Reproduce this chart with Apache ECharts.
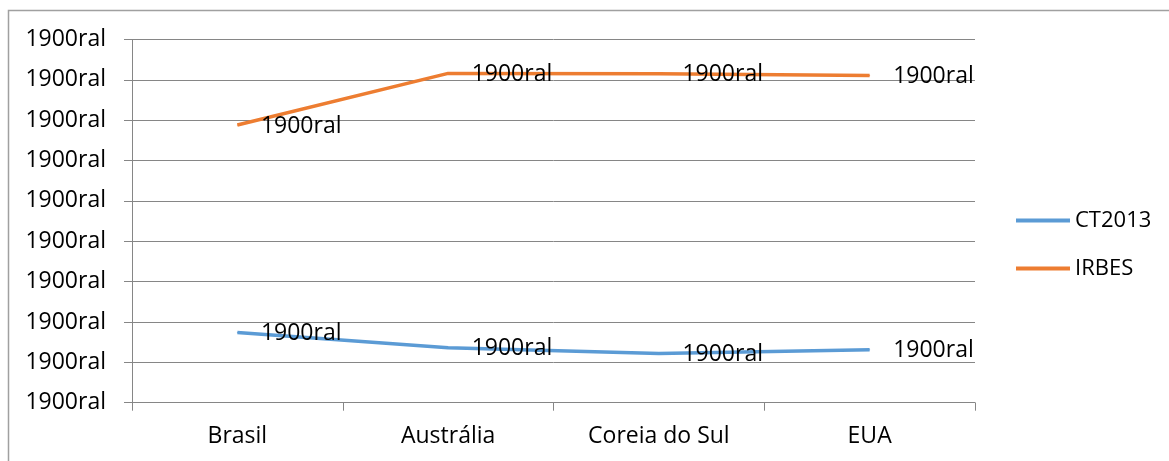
<!DOCTYPE html>
<html>
<head>
<meta charset="utf-8">
<script src="https://cdn.jsdelivr.net/npm/echarts@6/dist/echarts.min.js"></script>
<style>
  html, body { margin: 0; padding: 0; background: #fff; }
  #chart { width: 1169px; height: 461px; }
</style>
</head>
<body>
<div id="chart"></div>
<script>
// Countries along the x axis
const categories = ['Brasil', 'Austrália', 'Coreia do Sul', 'EUA'];
// Series values
const ct2013 = [1.74, 1.36, 1.22, 1.31];
const irbes = [6.88, 8.16, 8.15, 8.11];
// Text shown for every value-axis tick and data label
const tickText = '1900ral';
const labelText = '1900ral';

const FONT = '"Open Sans", sans-serif';
const FS = 23;
const chart = echarts.init(document.getElementById('chart'));

function lineSeries(name, data, color) {
  return {
    name: name,
    type: 'line',
    data: data,
    symbol: 'circle',
    symbolSize: 1,
    showSymbol: true,
    lineStyle: { color: color, width: 3.5 },
    itemStyle: { color: color },
    label: {
      show: true,
      position: 'right',
      distance: 23,
      offset: [0, 1],
      formatter: () => labelText,
      color: '#000',
      fontFamily: FONT,
      fontSize: FS
    }
  };
}

chart.setOption({
  animation: false,
  backgroundColor: '#fff',
  graphic: [{
    type: 'rect',
    shape: { x: 8.5, y: 10.5, width: 1300, height: 600 },
    style: { fill: 'none', stroke: '#a0a0a0', lineWidth: 1.5 },
    silent: true
  }],
  grid: { left: 132, right: 194, top: 39.5, bottom: 58.3 },
  legend: {
    orient: 'vertical',
    left: 1011,
    top: 204.5,
    icon: 'rect',
    itemWidth: 54,
    itemHeight: 4,
    itemGap: 26,
    textStyle: { color: '#000', fontFamily: FONT, fontSize: 22, lineHeight: 22 },
    data: ['CT2013', 'IRBES']
  },
  xAxis: {
    type: 'category',
    data: categories,
    boundaryGap: true,
    axisLine: { lineStyle: { color: '#868686', width: 1 } },
    axisTick: { show: true, length: 8, lineStyle: { color: '#868686' } },
    axisLabel: { color: '#000', fontFamily: FONT, fontSize: FS, margin: 22 },
    splitLine: { show: false }
  },
  yAxis: {
    type: 'value',
    min: 0,
    max: 9,
    interval: 1,
    axisLine: { show: true, lineStyle: { color: '#868686', width: 1 } },
    axisTick: { show: true, length: 8, lineStyle: { color: '#868686' } },
    axisLabel: { color: '#000', fontFamily: FONT, fontSize: FS, margin: 26, formatter: () => tickText },
    splitLine: { show: true, lineStyle: { color: '#868686', width: 1 } }
  },
  series: [
    lineSeries('CT2013', ct2013, '#5B9BD5'),
    lineSeries('IRBES', irbes, '#ED7D31')
  ]
});
</script>
</body>
</html>
